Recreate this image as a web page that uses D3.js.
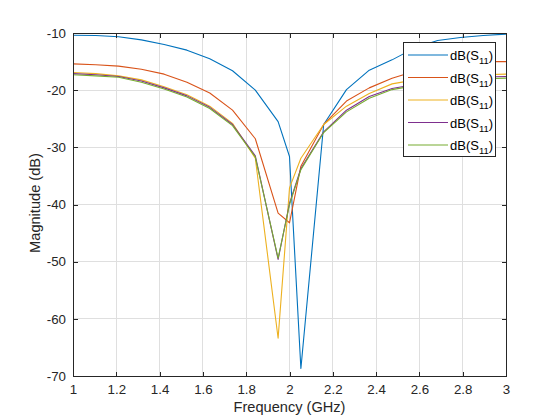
<!DOCTYPE html>
<html><head><meta charset="utf-8">
<script src="https://cdn.jsdelivr.net/npm/d3@7"></script>
<style>body{margin:0;background:#fff}svg{display:block;font-family:"Liberation Sans",Arial,Helvetica,sans-serif}</style>
</head><body>
<svg id="c" width="560" height="420"></svg>
<script>
const freq = [1, 1.1053, 1.2105, 1.3158, 1.4211, 1.5263, 1.6316, 1.7368, 1.8421, 1.9474, 2.0, 2.0526, 2.1579, 2.2632, 2.3684, 2.4737, 2.5789, 2.6842, 2.7895, 2.8947, 3.0];
const series1 = [-10.4, -10.45, -10.65, -11.2, -12.0, -13.0, -14.5, -16.6, -20.0, -25.5, -31.6, -68.7, -26.0, -19.9, -16.5, -14.7, -12.6, -11.3, -10.8, -10.45, -10.2];
const series2 = [-15.4, -15.55, -15.8, -16.35, -17.2, -18.6, -20.5, -23.5, -28.5, -41.5, -43.2, -33.3, -26.0, -21.9, -19.6, -17.9, -16.7, -15.9, -15.3, -15.0, -15.0];
const series3 = [-16.9, -17.1, -17.5, -18.2, -19.4, -20.8, -22.8, -25.8, -31.9, -63.4, -37.1, -31.9, -26.0, -22.8, -20.6, -18.9, -18.2, -17.7, -17.4, -17.3, -17.2];
const series4 = [-17.1, -17.3, -17.6, -18.4, -19.6, -21.0, -23.0, -26.0, -31.5, -49.6, -39.8, -33.7, -27.3, -23.5, -21.1, -19.7, -19.0, -18.4, -18.0, -17.7, -17.6];
const series5 = [-17.3, -17.5, -17.75, -18.6, -19.8, -21.2, -23.2, -26.2, -31.7, -49.4, -40.0, -33.9, -27.4, -23.8, -21.4, -19.9, -19.2, -18.7, -18.3, -18.0, -17.9];
const seriesNames = ["dB(S11)", "dB(S11)", "dB(S11)", "dB(S11)", "dB(S11)"];
const colors = ["#0072BD", "#D95319", "#EDB120", "#7E2F8E", "#77AC30"];
const xTicks = [1, 1.2, 1.4, 1.6, 1.8, 2, 2.2, 2.4, 2.6, 2.8, 3];
const yTicks = [-70, -60, -50, -40, -30, -20, -10];
const xLabel = "Frequency (GHz)";
const yLabel = "Magnitude (dB)";

const allSeries = [series1, series2, series3, series4, series5];
const L = 73, R = 506, T = 33, B = 376;
const svg = d3.select("#c");
const x = d3.scaleLinear().domain([1, 3]).range([L, R]);
const y = d3.scaleLinear().domain([-70, -10]).range([B, T]);
const axc = "#262626";
const fmt = d => String(d);

// grid
const g = svg.append("g");
g.selectAll("line.vx").data(xTicks).join("line")
  .attr("x1", d => x(d)).attr("x2", d => x(d)).attr("y1", T).attr("y2", B)
  .attr("stroke", "#dfdfdf").attr("stroke-width", 1).attr("shape-rendering", "crispEdges");
g.selectAll("line.hy").data(yTicks).join("line")
  .attr("x1", L).attr("x2", R).attr("y1", d => y(d)).attr("y2", d => y(d))
  .attr("stroke", "#dfdfdf").attr("stroke-width", 1).attr("shape-rendering", "crispEdges");

// lines
svg.append("clipPath").attr("id", "clip").append("rect")
  .attr("x", L).attr("y", T).attr("width", R - L).attr("height", B - T);
const line = d3.line().x((d, i) => x(freq[i])).y(d => y(d));
svg.append("g").attr("clip-path", "url(#clip)").selectAll("path").data(allSeries).join("path")
  .attr("d", d => line(d)).attr("fill", "none")
  .attr("stroke", (d, i) => colors[i]).attr("stroke-width", 1.1).attr("stroke-linejoin", "round");

// axes
const tickLen = 4.5;
const xb = svg.append("g").attr("transform", `translate(0,${B})`)
  .call(d3.axisBottom(x).tickValues(xTicks).tickSize(-tickLen).tickPadding(9).tickFormat(fmt));
const xt = svg.append("g").attr("transform", `translate(0,${T})`)
  .call(d3.axisTop(x).tickValues(xTicks).tickSize(-tickLen).tickFormat(""));
const yl = svg.append("g").attr("transform", `translate(${L},0)`)
  .call(d3.axisLeft(y).tickValues(yTicks).tickSize(-tickLen).tickPadding(7).tickFormat(fmt));
const yr = svg.append("g").attr("transform", `translate(${R},0)`)
  .call(d3.axisRight(y).tickValues(yTicks).tickSize(-tickLen).tickFormat(""));
[xb, xt, yl, yr].forEach(a => {
  a.select(".domain").remove();
  a.selectAll(".tick line").attr("stroke", axc).attr("stroke-width", 1).attr("shape-rendering", "crispEdges");
  a.selectAll(".tick text").attr("fill", axc).attr("font-size", 13.3)
    .attr("font-family", "'Liberation Sans',Arial,sans-serif");
});
xb.selectAll(".tick text").attr("dy", "0.71em");
svg.append("rect").attr("x", L).attr("y", T).attr("width", R - L).attr("height", B - T)
  .attr("fill", "none").attr("stroke", axc).attr("stroke-width", 1).attr("shape-rendering", "crispEdges");

// labels
svg.append("text").attr("x", (L + R) / 2).attr("y", 412).attr("text-anchor", "middle")
  .attr("font-size", 14.6).attr("fill", axc).text(xLabel);
svg.append("text").attr("transform", `translate(40,${203}) rotate(-90)`).attr("text-anchor", "middle")
  .attr("font-size", 14.6).attr("fill", axc).text(yLabel);

// legend
const lg = svg.append("g");
lg.append("rect").attr("x", 403.5).attr("y", 42.5).attr("width", 92).attr("height", 114)
  .attr("fill", "#fff").attr("stroke", axc).attr("stroke-width", 1).attr("shape-rendering", "crispEdges");
seriesNames.forEach((name, i) => {
  const yy = 55 + i * 22.5;
  lg.append("line").attr("x1", 408).attr("x2", 448).attr("y1", yy).attr("y2", yy)
    .attr("stroke", colors[i]).attr("stroke-width", 1.1);
  const t = lg.append("text").attr("x", 450).attr("y", yy + 5).attr("font-size", 13).attr("fill", "#000");
  const base = name.replace("11)", "");
  t.append("tspan").text(base);
  t.append("tspan").attr("font-size", 9.5).attr("dy", 4).text("11");
  t.append("tspan").attr("dy", -4).text(")");
});
</script>
</body></html>
